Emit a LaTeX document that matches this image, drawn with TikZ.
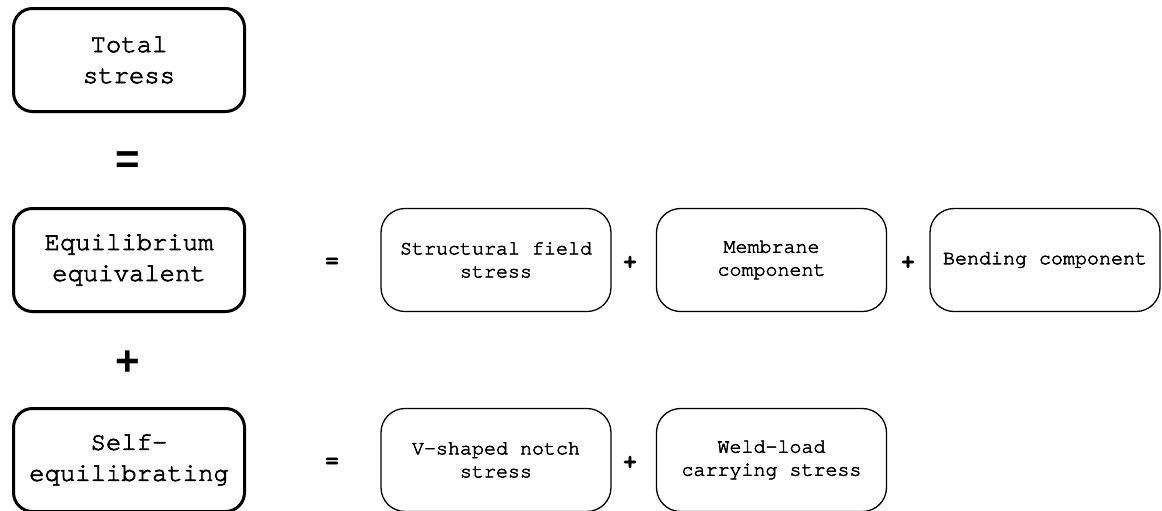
\documentclass[tikz,border=0pt]{standalone}
\usepackage{fontspec}
\setmonofont{TeX Gyre Cursor}[Ligatures=NoCommon, FakeBold=2.6]
\setsansfont{Liberation Sans}
\usetikzlibrary{positioning}

\tikzset{
	mainbox/.style={draw, line width=1.5pt, rounded corners=9.5pt,
		minimum width=115.5pt, minimum height=51.5pt, align=center,
		font=\ttfamily\fontsize{12.8}{15.5}\selectfont},
	partbox/.style={draw, line width=0.65pt, rounded corners=12pt,
		minimum width=115pt, minimum height=51.5pt, align=center,
		font=\ttfamily\fontsize{10}{11.5}\selectfont},
	bigsign/.style={inner sep=0pt, font=\sffamily\bfseries\fontsize{21}{21}\selectfont},
	smallsign/.style={inner sep=0pt, font=\ttfamily\bfseries\fontsize{10.5}{10.5}\selectfont}
}

\begin{document}
\begin{tikzpicture}[x=0.5pt, y=-0.5pt]
	\clip (0,0) rectangle (1162,510);
	% left column
	\node [mainbox] (TOTAL)  at (129,60)  {Total\\stress};
	\node [bigsign] (EQTOP)  at (128,163) {=};
	\node [mainbox] (EQUIL)  at (129,260) {Equilibrium\\equivalent};
	\node [bigsign] (PLUSTOP) at (128,363) {+};
	\node [mainbox] (SELFEQ) at (129,460) {Self-\\equilibrating};
	% equilibrium equivalent row
	\node [smallsign] (EQ1)    at (332,262)   {=};
	\node [partbox]   (SFIELD) at (496,260)   {Structural field\\stress};
	\node [smallsign] (P1)     at (630,262)   {+};
	\node [partbox]   (MEMB)   at (771.5,260) {Membrane\\component};
	\node [smallsign] (P2)     at (908,262)   {+};
	\node [partbox]   (BEND)   at (1045,260)  {Bending component};
	% self-equilibrating row
	\node [smallsign] (EQ2)    at (332,462)   {=};
	\node [partbox]   (VNOTCH) at (496,460)   {V-shaped notch\\stress};
	\node [smallsign] (P3)     at (630,462)   {+};
	\node [partbox]   (WELD)   at (771.5,460) {Weld-load\\carrying stress};
\end{tikzpicture}
\end{document}
